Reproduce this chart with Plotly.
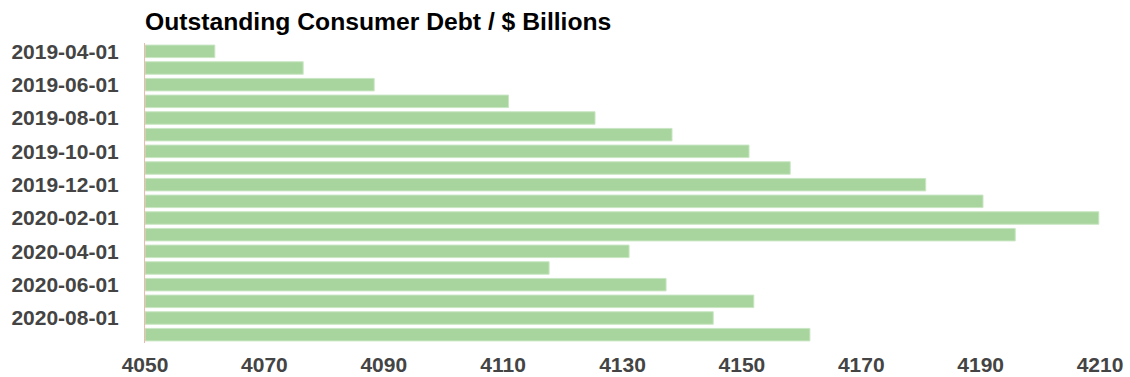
import plotly.graph_objects as go

months = [
    "2019-04-01", "2019-05-01", "2019-06-01", "2019-07-01", "2019-08-01", "2019-09-01",
    "2019-10-01", "2019-11-01", "2019-12-01", "2020-01-01", "2020-02-01", "2020-03-01",
    "2020-04-01", "2020-05-01", "2020-06-01", "2020-07-01", "2020-08-01", "2020-09-01",
]
debt = [
    4061.7, 4076.5, 4088.4, 4110.9, 4125.4, 4138.3,
    4151.2, 4158.1, 4180.8, 4190.4, 4209.8, 4195.8,
    4131.1, 4117.7, 4137.3, 4152.0, 4145.2, 4161.4,
]
y_ticks = ["2019-04-01", "2019-06-01", "2019-08-01", "2019-10-01", "2019-12-01",
           "2020-02-01", "2020-04-01", "2020-06-01", "2020-08-01"]
x_ticks = [4050, 4070, 4090, 4110, 4130, 4150, 4170, 4190, 4210]

BASE = 4050

fig = go.Figure(
    go.Bar(
        y=months,
        x=[v - BASE for v in debt],
        base=BASE,
        orientation="h",
        marker=dict(color="#a8d59e", line=dict(color="#c9e6c3", width=1)),
        hoverinfo="x+y",
    )
)

fig.update_layout(
    width=1130,
    height=377,
    margin=dict(l=145, r=30, t=43, b=34),
    paper_bgcolor="white",
    plot_bgcolor="white",
    bargap=0.25,
    showlegend=False,
    font=dict(family="Liberation Sans, Arial, sans-serif"),
    title=dict(
        text="Outstanding Consumer Debt / $ Billions",
        x=145 / 1130,
        xanchor="left",
        y=1 - 21.5 / 377,
        yanchor="middle",
        font=dict(size=24.7, color="black", weight="bold"),
    ),
)

fig.update_xaxes(
    range=[BASE, 4210],
    tickvals=x_ticks,
    ticktext=[str(t) for t in x_ticks],
    showgrid=False,
    zeroline=False,
    showline=False,
    ticks="",
    automargin=False,
    ticklabelstandoff=7,
    tickfont=dict(size=21, color="#444444", weight="bold"),
)

fig.update_yaxes(
    type="category",
    categoryorder="array",
    categoryarray=months,
    autorange="reversed",
    tickvals=y_ticks,
    ticktext=y_ticks,
    showgrid=False,
    zeroline=False,
    showline=True,
    linecolor="#f0b8ab",
    linewidth=1,
    ticks="",
    automargin=False,
    ticklabelstandoff=21,
    tickfont=dict(size=21, color="#444444", weight="bold"),
)

fig.write_html("out.html")
